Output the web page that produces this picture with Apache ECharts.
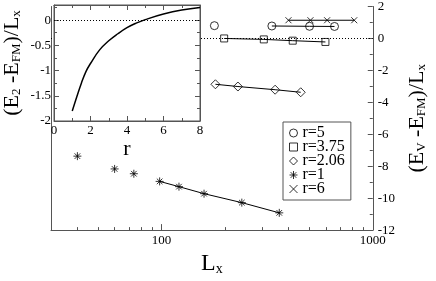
<!DOCTYPE html>
<html><head><meta charset="utf-8">
<script src="https://cdn.jsdelivr.net/npm/echarts@6/dist/echarts.min.js"></script>
<style>html,body{margin:0;padding:0;background:#fff;overflow:hidden}#c{width:436px;height:281px}</style>
</head><body><div id="c"></div>
<script>
// ---------- data ----------
const r5Lx = [178, 333, 502, 659];
const r5E = [0.80, 0.78, 0.76, 0.75];
const r5FitFrom = 1;

const r375Lx = [198, 305, 418, 597];
const r375E = [0.00, -0.06, -0.14, -0.22];
const r375FitFrom = 0;

const r206Lx = [180, 230, 345, 456];
const r206E = [-2.87, -3.01, -3.21, -3.37];
const r206FitFrom = 0;

const r1Lx = [40, 60, 74, 98, 121, 159, 240, 361];
const r1E = [-7.37, -8.17, -8.47, -8.95, -9.28, -9.72, -10.28, -10.92];
const r1FitFrom = 3;

const r6Lx = [399, 507, 608, 817];
const r6E = [1.14, 1.14, 1.14, 1.14];
const r6FitFrom = 0;

const insetR = [1, 1.25, 1.5, 1.75, 2, 2.5, 3, 3.5, 4, 4.5, 5, 6, 7, 8];
const insetE = [-1.80, -1.52, -1.25, -1.02, -0.86, -0.59, -0.41, -0.27, -0.15, -0.06, 0.01, 0.12, 0.20, 0.25];

const xMajorTicks = [100, 1000];
const xMinorTicks = [40, 50, 60, 70, 80, 90, 200, 300, 400, 500, 600, 700, 800, 900];
const seriesNames = ['r=5', 'r=3.75', 'r=2.06', 'r=1', 'r=6'];

// ---------- chart ----------
const FONT = '"Liberation Serif", "Times New Roman", serif';
const AX = '#555';
const pts = (xs, ys) => xs.map((x, i) => [x, ys[i]]);

const richName = (main, sub) => ({
  fontFamily: FONT, fontSize: main, color: '#000',
  rich: {
    a: { fontFamily: FONT, fontSize: main, lineHeight: main, color: '#000' },
    s: { fontFamily: FONT, fontSize: sub, lineHeight: sub, verticalAlign: 'bottom', color: '#000' }
  }
});

const starPath = 'path://M5,0L5,10M0,5L10,5M1.5,1.5L8.5,8.5M8.5,1.5L1.5,8.5';
const crossPath = 'path://M0,0L10,10M10,0L0,10';
const open = { color: 'rgba(0,0,0,0)', borderColor: '#000', borderWidth: 1 };

const groups = [
  { name: seriesNames[0], xs: r5Lx, ys: r5E, from: r5FitFrom, symbol: 'circle', size: 8 },
  { name: seriesNames[1], xs: r375Lx, ys: r375E, from: r375FitFrom, symbol: 'rect', size: 7 },
  { name: seriesNames[2], xs: r206Lx, ys: r206E, from: r206FitFrom, symbol: 'diamond', size: 9 },
  { name: seriesNames[3], xs: r1Lx, ys: r1E, from: r1FitFrom, symbol: starPath, size: 8 },
  { name: seriesNames[4], xs: r6Lx, ys: r6E, from: r6FitFrom, symbol: crossPath, size: 6 }
];

const series = [];
groups.forEach((g, gi) => {
  const line = {
    type: 'line', name: 'fit ' + g.name, xAxisIndex: 0, yAxisIndex: 1,
    data: pts(g.xs, g.ys).slice(g.from), symbol: 'none', showSymbol: false,
    lineStyle: { color: '#000', width: 1 }, silent: true, z: 2
  };
  if (gi === 1) {
    line.markLine = {
      symbol: 'none', silent: true, label: { show: false }, z: 1,
      lineStyle: { type: [1, 2], color: '#000', width: 1 },
      data: [{ yAxis: 0 }]
    };
  }
  series.push(line);
});
groups.forEach(g => {
  series.push({
    type: 'scatter', name: g.name, xAxisIndex: 0, yAxisIndex: 1,
    data: pts(g.xs, g.ys), symbol: g.symbol, symbolSize: g.size,
    itemStyle: open, silent: true, z: 3
  });
});
series.push({
  type: 'line', name: 'inset', xAxisIndex: 2, yAxisIndex: 2,
  data: pts(insetR, insetE), smooth: 0.45, symbol: 'none', showSymbol: false,
  lineStyle: { color: '#000', width: 1.5 }, silent: true, z: 12,
  markLine: {
    symbol: 'none', silent: true, label: { show: false }, z: 13,
    lineStyle: { type: [1, 2], color: '#000', width: 1 },
    data: [{ yAxis: 0 }]
  }
});

const tickLbl = { fontFamily: FONT, fontSize: 13, color: '#000' };
const line = { show: true, onZero: false, lineStyle: { color: AX } };

const option = {
  animation: false,
  backgroundColor: '#fff',
  grid: [
    { left: 51, right: 52, top: 5, bottom: 43 },
    { left: 51, top: 5, width: 149, height: 116, show: true, backgroundColor: '#fff',
      borderColor: AX, borderWidth: 1, z: 10 }
  ],
  legend: {
    data: seriesNames, orient: 'vertical', left: 283, top: 122,
    padding: [3, 6, 3, 6], itemGap: -2, itemWidth: 8, itemHeight: 8,
    itemStyle: { borderWidth: 1 },
    borderColor: AX, borderWidth: 1, backgroundColor: '#fff',
    textStyle: { fontFamily: FONT, fontSize: 16, lineHeight: 14, color: '#000' },
    selectedMode: false
  },
  xAxis: [
    { type: 'log', gridIndex: 0, min: 30, max: 1000, position: 'bottom',
      axisLine: line,
      axisTick: { show: true, inside: true, length: 6, customValues: xMajorTicks, lineStyle: { color: AX } },
      axisLabel: { show: true, customValues: xMajorTicks, margin: 4, formatter: v => String(v), ...tickLbl },
      splitLine: { show: false }, minorTick: { show: false },
      name: '{a|L}{s|x}', nameLocation: 'middle', nameGap: 13, nameTextStyle: richName(24, 14) },
    { type: 'log', gridIndex: 0, min: 30, max: 1000, position: 'bottom',
      axisLine: { show: false, onZero: false },
      axisTick: { show: true, inside: true, length: 3, customValues: xMinorTicks, lineStyle: { color: AX } },
      axisLabel: { show: false }, splitLine: { show: false } },
    { type: 'value', gridIndex: 1, min: 0, max: 8, interval: 2, position: 'bottom', z: 11,
      axisLine: line,
      axisTick: { show: true, inside: true, length: 5, lineStyle: { color: AX } },
      minorTick: { show: true, splitNumber: 2, length: 3, lineStyle: { color: AX } },
      axisLabel: { margin: 3, ...tickLbl }, splitLine: { show: false },
      name: 'r', nameLocation: 'middle', nameGap: 2,
      nameTextStyle: { fontFamily: FONT, fontSize: 22, color: '#000', lineHeight: 22 } },
    { type: 'value', gridIndex: 1, min: 0, max: 8, interval: 2, position: 'top', z: 11,
      axisLine: line,
      axisTick: { show: true, inside: true, length: 5, lineStyle: { color: AX } },
      minorTick: { show: true, splitNumber: 2, length: 3, lineStyle: { color: AX } },
      axisLabel: { show: false }, splitLine: { show: false } }
  ],
  yAxis: [
    { type: 'value', gridIndex: 0, min: -12, max: 2, position: 'left',
      axisLine: line,
      axisTick: { show: false }, axisLabel: { show: false }, splitLine: { show: false } },
    { type: 'value', gridIndex: 0, min: -12, max: 2, interval: 2, position: 'right',
      axisLine: line,
      axisTick: { show: true, inside: true, length: 5, lineStyle: { color: AX } },
      minorTick: { show: true, splitNumber: 2, length: 3, lineStyle: { color: AX } },
      axisLabel: { margin: 5, ...tickLbl }, splitLine: { show: false },
      name: '{a|(E}{s|V}{a| -E}{s|FM}{a|)/L}{s|x}', nameLocation: 'middle', nameRotate: 90,
      nameGap: 31, nameTextStyle: richName(22, 13) },
    { type: 'value', gridIndex: 1, min: -2, max: 0.3, interval: 0.5, position: 'left', z: 11,
      axisLine: line,
      axisTick: { show: true, inside: true, length: 5, lineStyle: { color: AX } },
      minorTick: { show: true, splitNumber: 2, length: 3, lineStyle: { color: AX } },
      axisLabel: { margin: 3, showMaxLabel: false, ...tickLbl }, splitLine: { show: false },
      name: '{a|(E}{s|2}{a| -E}{s|FM}{a|)/L}{s|x}', nameLocation: 'middle', nameRotate: 90,
      nameGap: 31, nameTextStyle: richName(22, 13) },
    { type: 'value', gridIndex: 1, min: -2, max: 0.3, interval: 0.5, position: 'right', z: 11,
      axisLine: line,
      axisTick: { show: true, inside: true, length: 5, lineStyle: { color: AX } },
      minorTick: { show: true, splitNumber: 2, length: 3, lineStyle: { color: AX } },
      axisLabel: { show: false }, splitLine: { show: false } }
  ],
  series: series
};

const chart = echarts.init(document.getElementById('c'), null, { renderer: 'canvas' });
chart.setOption(option);
</script>
</body></html>
